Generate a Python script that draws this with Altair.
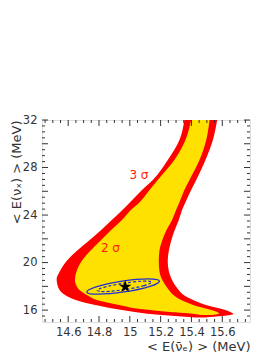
import altair as alt
import pandas as pd

# 3 sigma (red) region: for each y, left and right x bound
red_y = [32.00, 30.32, 28.63, 26.95, 26.11, 25.01, 24.42, 23.58, 22.66, 21.81, 20.97, 20.13, 19.29,
         18.62, 17.86, 17.19, 16.85, 16.60, 16.34, 16.18, 16.01, 15.84, 15.67, 15.50, 15.38]
red_left = [15.354, 15.322, 15.246, 15.149, 15.079, 14.997, 14.952, 14.883, 14.807, 14.732, 14.655, 14.590, 14.547,
            14.525, 14.537, 14.590, 14.649, 14.717, 14.808, 14.870, 14.949, 15.033, 15.131, 15.294, 15.424]
red_right = [15.567, 15.539, 15.491, 15.431, 15.398, 15.359, 15.339, 15.318, 15.289, 15.268, 15.253, 15.246, 15.253,
             15.271, 15.307, 15.359, 15.411, 15.457, 15.517, 15.571, 15.620, 15.652, 15.672, 15.600, 15.489]

# 2 sigma (yellow) region
yel_y = [32.00, 30.32, 28.63, 26.95, 26.11, 25.01, 24.42, 23.58, 22.66, 21.81, 20.97, 20.13, 19.29,
         18.53, 17.86, 17.19, 16.85, 16.60, 16.34, 16.18, 16.01, 15.84, 15.71, 15.59]
yel_left = [15.398, 15.361, 15.289, 15.181, 15.128, 15.059, 15.007, 14.949, 14.872, 14.807, 14.742, 14.688, 14.655,
            14.644, 14.662, 14.732, 14.786, 14.867, 14.962, 15.020, 15.131, 15.261, 15.392, 15.457]
yel_right = [15.517, 15.496, 15.452, 15.387, 15.354, 15.320, 15.300, 15.274, 15.235, 15.209, 15.192, 15.188, 15.192,
             15.211, 15.244, 15.291, 15.333, 15.379, 15.431, 15.480, 15.528, 15.567, 15.580, 15.535]

# 1 sigma ellipses
ell_x = [15.192, 15.126, 14.962, 14.793, 14.721, 14.786, 14.950, 15.119]
ell_y = [18.45, 17.98, 17.53, 17.34, 17.52, 17.98, 18.44, 18.63]
dell_x = [15.142, 15.093, 14.968, 14.842, 14.788, 14.837, 14.962, 15.088]
dell_y = [18.35, 18.06, 17.73, 17.56, 17.66, 17.94, 18.27, 18.44]

best_x = [14.970]
best_y = [17.97]

lab_text = ["3 σ", "2 σ"]
lab_x = [15.059, 14.874]
lab_y = [27.37, 21.20]

x_major = [14.6, 14.8, 15.0, 15.2, 15.4, 15.6]
y_major = [16, 18, 20, 22, 24, 26, 28, 30, 32]
x_minor = [14.45, 14.5, 14.55, 14.65, 14.7, 14.75, 14.85, 14.9, 14.95, 15.05, 15.1, 15.15,
           15.25, 15.3, 15.35, 15.45, 15.5, 15.55, 15.65, 15.7, 15.75]
y_minor = [15.5, 16.5, 17, 17.5, 18.5, 19, 19.5, 20.5, 21, 21.5, 22.5, 23, 23.5, 24.5, 25, 25.5,
           26.5, 27, 27.5, 28.5, 29, 29.5, 30.5, 31, 31.5]

XDOM = [14.43, 15.78]
YDOM = [15, 32]
W, H = 208, 202
FONT = "DejaVu Sans"
XT = "< E(ν̄ₑ) > (MeV)"
YT = "< E(νₓ) > (MeV)"
STAR = ("M0,-1L0.2245,-0.309L0.951,-0.309L0.363,0.118L0.588,0.809L0,0.382"
        "L-0.588,0.809L-0.363,0.118L-0.951,-0.309L-0.2245,-0.309Z")

xs = alt.Scale(domain=XDOM, nice=False, zero=False)
ys = alt.Scale(domain=YDOM, nice=False, zero=False)

red_df = pd.DataFrame({"y": red_y, "xl": red_left, "xr": red_right})
yel_df = pd.DataFrame({"y": yel_y, "xl": yel_left, "xr": yel_right})

xaxis = alt.Axis(values=x_major, format=".1~f", ticks=False, domain=False, grid=False,
                 labelFont=FONT, labelFontSize=11.5, labelColor="#333", labelPadding=4,
                 title=XT, titleFont=FONT, titleFontSize=13, titleFontWeight="normal",
                 titleColor="#333", titleAnchor="end", titleAlign="right", titleX=W, titleY=24,
                 titleBaseline="middle")
yaxis = alt.Axis(values=y_major, ticks=False, domain=False, grid=False,
                 labelFont=FONT, labelFontSize=11.5, labelColor="#333", labelPadding=5,
                 title=YT, titleFont=FONT, titleFontSize=13, titleFontWeight="normal",
                 titleColor="#333", titleAnchor="end", titleAngle=270, titleAlign="right",
                 titleX=-26, titleY=0, titleBaseline="middle")

red = alt.Chart(red_df).mark_area(orient="horizontal", color="#ff0000", interpolate="monotone", clip=True).encode(
    y=alt.Y("y:Q", scale=ys, axis=yaxis),
    x=alt.X("xl:Q", scale=xs, axis=xaxis),
    x2="xr:Q",
)
yel = alt.Chart(yel_df).mark_area(orient="horizontal", color="#ffe100", interpolate="monotone", clip=True).encode(
    y=alt.Y("y:Q", scale=ys, title=YT),
    x=alt.X("xl:Q", scale=xs, title=XT),
    x2="xr:Q",
)

ell_df = pd.DataFrame({"x": ell_x, "y": ell_y, "o": list(range(len(ell_x)))})
dell_df = pd.DataFrame({"x": dell_x, "y": dell_y, "o": list(range(len(dell_x)))})
ell = alt.Chart(ell_df).mark_line(color="#1f2fd6", strokeWidth=1.3, interpolate="cardinal-closed").encode(
    x=alt.X("x:Q", scale=xs, title=XT), y=alt.Y("y:Q", scale=ys, title=YT), order="o:Q")
dell = alt.Chart(dell_df).mark_line(color="#1f2fd6", strokeWidth=1.2, strokeDash=[3, 2],
                                    interpolate="cardinal-closed").encode(
    x=alt.X("x:Q", scale=xs, title=XT), y=alt.Y("y:Q", scale=ys, title=YT), order="o:Q")

star = alt.Chart(pd.DataFrame({"sx": best_x, "sy": best_y})).mark_point(
    shape=STAR, filled=True, color="black", size=175, opacity=1).encode(
    x=alt.X("sx:Q", scale=xs, title=XT), y=alt.Y("sy:Q", scale=ys, title=YT))

labels = alt.Chart(pd.DataFrame({"lx": lab_x, "ly": lab_y, "t": lab_text})).mark_text(
    font=FONT, fontSize=12, color="#ff2200").encode(
    x=alt.X("lx:Q", scale=xs, title=XT), y=alt.Y("ly:Q", scale=ys, title=YT), text="t:N")

TC = "#333"
def xticks(vals, y0, y1):
    return alt.Chart(pd.DataFrame({"tx": vals})).mark_rule(color=TC, strokeWidth=1).encode(
        x=alt.X("tx:Q", scale=xs, title=XT), y=alt.value(y0), y2=alt.value(y1))

def yticks(vals, x0, x1):
    return alt.Chart(pd.DataFrame({"ty": vals})).mark_rule(color=TC, strokeWidth=1).encode(
        y=alt.Y("ty:Q", scale=ys, title=YT), x=alt.value(x0), x2=alt.value(x1))

ticks = [
    xticks(x_major, H, H - 6), xticks(x_major, 0, 6),
    xticks(x_minor, H, H - 3), xticks(x_minor, 0, 3),
    yticks(y_major, 0, 6), yticks(y_major, W, W - 6),
    yticks(y_minor, 0, 3), yticks(y_minor, W, W - 3),
]

chart = alt.layer(red, yel, ell, dell, star, labels, *ticks).properties(
    width=W, height=H,
    autosize=alt.AutoSizeParams(type="none"),
    padding={"left": 34, "top": 112, "right": 16, "bottom": 32},
).configure_view(stroke="#333", strokeWidth=1).configure(background="white")

chart.save("out.html", embed_options={"renderer": "svg", "actions": False})
